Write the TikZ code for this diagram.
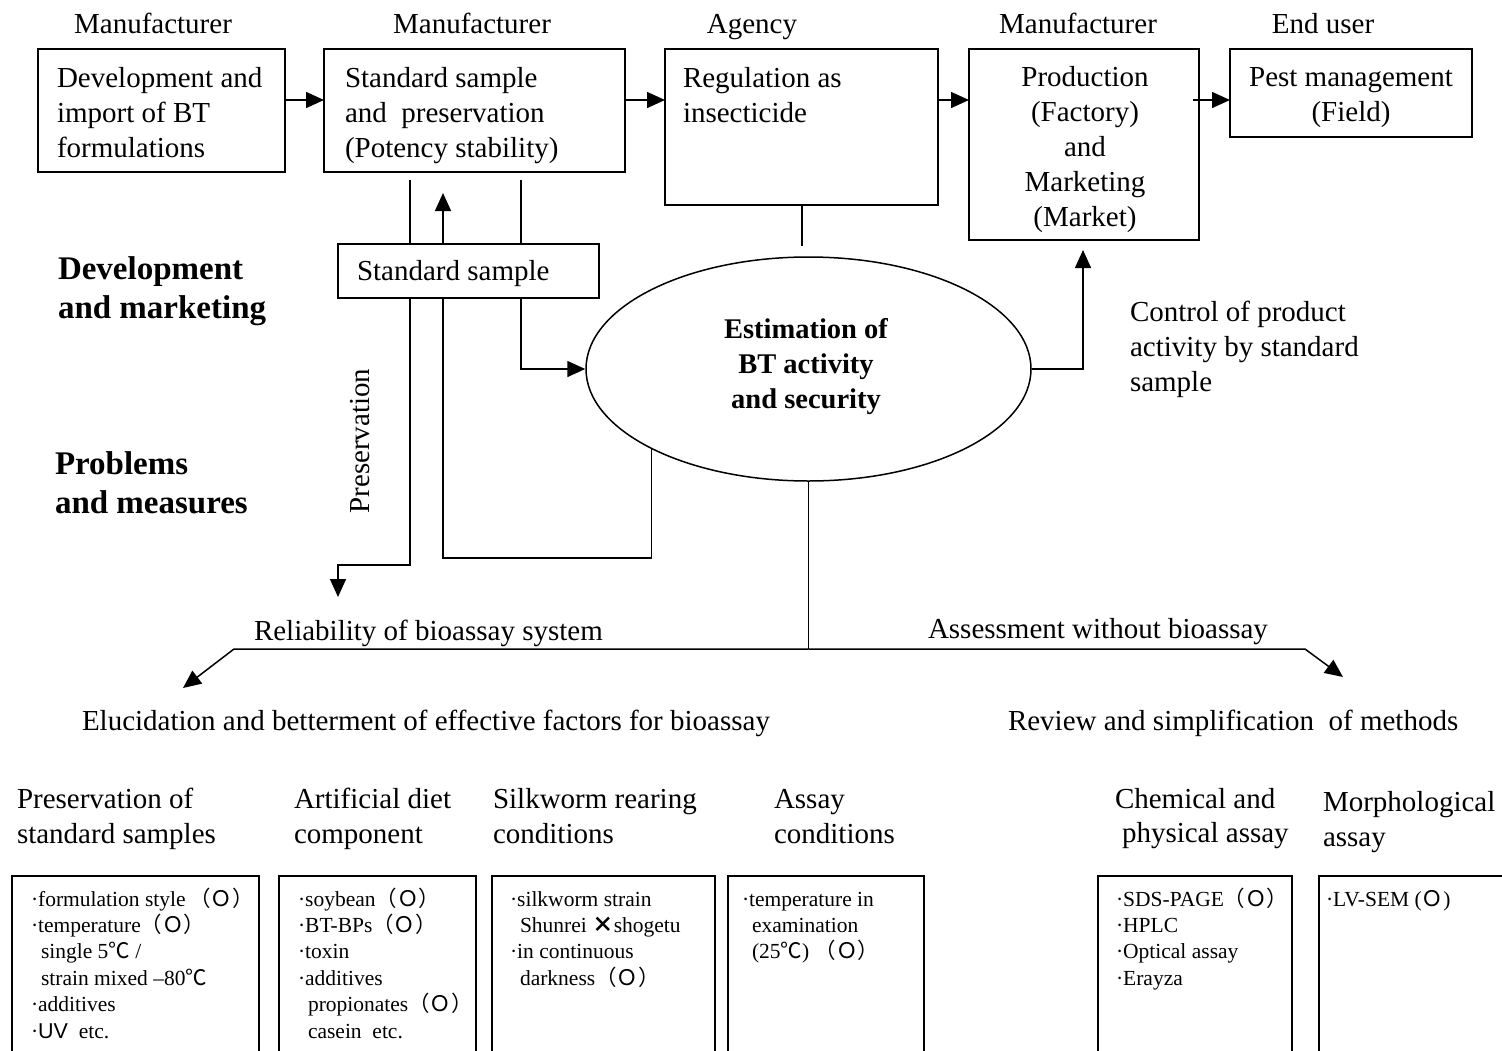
\documentclass[tikz,border=0pt]{standalone}
\usepackage{fontspec}
\setmainfont{Liberation Serif}
\newfontfamily\cjkf{Noto Sans CJK JP}
\newfontfamily\sansf{Liberation Sans}
\usetikzlibrary{arrows.meta,shapes.geometric}
\newcommand\maru{{\cjkf （Ｏ）}}
\newcommand\degc{{\cjkf ℃}}
\newcommand\mylinesl[1]{\begin{tabular}[t]{@{}l@{}}#1\end{tabular}}
\newcommand\mylinesc[1]{\begin{tabular}[t]{@{}c@{}}#1\end{tabular}}
\newcommand\ind{\hspace*{10pt}}
\begin{document}
\begin{tikzpicture}[x=1pt,y=-1pt,line width=1.5pt,
  box/.style={draw,rectangle,inner sep=0pt,outer sep=0pt,anchor=north west},
  lbl/.style={font=\fontsize{29}{35}\selectfont,inner sep=0pt,outer sep=0pt},
  bld/.style={font=\fontsize{33}{39}\selectfont\bfseries,inner sep=0pt,outer sep=0pt},
  ebld/.style={font=\fontsize{28.5}{35}\selectfont\bfseries,inner sep=0pt,outer sep=0pt},
  sml/.style={font=\fontsize{21.5}{26.4}\selectfont,inner sep=0pt,outer sep=0pt},
  arr/.style={-{Triangle[length=18pt,width=16pt]}}]
\useasboundingbox (0,0) rectangle (1502,1050);
% top role labels
\node[lbl,anchor=base] (m1) at (153,33) {Manufacturer};
\node[lbl,anchor=base] (m2) at (472,33) {Manufacturer};
\node[lbl,anchor=base] (ag1) at (752,33) {Agency};
\node[lbl,anchor=base] (m3) at (1078,33) {Manufacturer};
\node[lbl,anchor=base] (eu) at (1323,33) {End user};
% top boxes
\node[box,minimum width=247,minimum height=123] (b1) at (38,49) {};
\node[box,minimum width=301,minimum height=123] (b2) at (324,49) {};
\node[box,minimum width=273,minimum height=156] (b3) at (665,49) {};
\node[box,minimum width=230,minimum height=191] (b4) at (969,49) {};
\node[box,minimum width=242,minimum height=88] (b5) at (1230,49) {};
\node[lbl,anchor=base west] (t1) at (57,87) {\mylinesl{Development and\\import of BT\\formulations}};
\node[lbl,anchor=base west] (t2) at (345,87) {\mylinesl{Standard sample\\and\ \ preservation\\(Potency stability)}};
\node[lbl,anchor=base west] (t3) at (683,87) {\mylinesl{Regulation as\\insecticide}};
\node[lbl,anchor=base] (t4) at (1085,86) {\mylinesc{Production\\(Factory)\\and\\Marketing\\(Market)}};
\node[lbl,anchor=base] (t5) at (1351,86) {\mylinesc{Pest management\\(Field)}};
\coordinate (r100) at (0,100);
\draw[arr] (b1.east |- r100) -- (b2.west |- r100);
\draw[arr] (b2.east |- r100) -- (b3.west |- r100);
\draw[arr] (b3.east |- r100) -- (b4.west |- r100);
\coordinate (s45) at (1193,100);
\draw[arr] (s45) -- (b5.west |- r100);
% standard sample box
\node[box,minimum width=261,minimum height=54] (ss) at (338,244) {};
\node[lbl,anchor=base west] (sst) at (357,280) {Standard sample};
% ellipse
\node[draw,ellipse,minimum width=445,minimum height=224,inner sep=0pt] (est) at (808.5,369) {};
\node[ebld,anchor=base] (estt) at (806,338) {\mylinesc{Estimation of\\BT activity\\and security}};
% side labels
\node[bld,anchor=base west] (dm) at (58,279) {\mylinesl{Development\\and marketing}};
\node[bld,anchor=base west] (pm) at (55,474) {\mylinesl{Problems\\and measures}};
\node[lbl,rotate=90,anchor=base] (pres) at (369,441) {Preservation};
\node[lbl,anchor=base west] (ctl) at (1130,321) {\mylinesl{Control of product\\activity by standard\\sample}};
% connectors around standard sample
\coordinate (va) at (410,180);
\coordinate (vb) at (443,193);
\coordinate (vc) at (521,180);
\draw (va) -- (va |- ss.north);
\draw[arr] (vb |- ss.north) -- (vb);
\draw (vc) -- (vc |- ss.north);
\coordinate (pa) at (410,565);
\coordinate (pa2) at (338,597);
\draw[arr] (va |- ss.south) -- (pa) -| (pa2);
\coordinate (pb) at (443,558);
\draw (vb |- ss.south) -- (pb) -| (est.207);
\coordinate (pc) at (521,369);
\draw[arr] (vc |- ss.south) -- (pc) -- (est.west);
\coordinate (agl) at (802,246);
\draw (agl |- b3.south) -- (agl);
\coordinate (pr) at (1083,250);
\draw[arr] (est.east) -| (pr);
% branch
\coordinate (hub) at (808.5,649);
\draw (est.south) -- (hub);
\coordinate (hl) at (234,649);
\coordinate (tl) at (183,688);
\draw[arr] (hub) -- (hl) -- (tl);
\coordinate (hr) at (1305,649);
\coordinate (tr) at (1343,677);
\draw[arr] (hub) -- (hr) -- (tr);
\node[lbl,anchor=base west] (rel) at (254,640) {Reliability of bioassay system};
\node[lbl,anchor=base west] (asw) at (928,638) {Assessment without bioassay};
\node[lbl,anchor=base west] (elu) at (82,730) {Elucidation and betterment of effective factors for bioassay};
\node[lbl,anchor=base west] (rev) at (1008,730) {Review and simplification\ \ of methods};
% categories
\node[lbl,anchor=base west] (c1) at (17,808) {\mylinesl{Preservation of\\standard samples}};
\node[lbl,anchor=base west] (c2) at (294,808) {\mylinesl{Artificial diet\\component}};
\node[lbl,anchor=base west] (c3) at (493,808) {\mylinesl{Silkworm rearing\\conditions}};
\node[lbl,anchor=base west] (c4) at (774,808) {\mylinesl{Assay\\conditions}};
\node[lbl,anchor=base west] (c5) at (1115,808) {Chemical and};
\node[lbl,anchor=base west] (c5b) at (1122,842) {physical assay};
\node[lbl,anchor=base west] (c6) at (1323,811) {\mylinesl{Morphological\\assay}};
% bottom boxes
\node[box,minimum width=247,minimum height=220] (ba) at (12,876) {};
\node[box,minimum width=197,minimum height=220] (bb) at (279,876) {};
\node[box,minimum width=223,minimum height=220] (bc) at (492,876) {};
\node[box,minimum width=196,minimum height=220] (bd) at (728,876) {};
\node[box,minimum width=194,minimum height=220] (be) at (1098,876) {};
\node[box,minimum width=250,minimum height=220] (bf) at (1319,876) {};
\node[sml,anchor=base west] (ta) at (31,906) {\mylinesl{·formulation style\,\maru\\·temperature\maru\\\ind single 5\degc\ /\\\ind strain mixed –80\degc\\·additives\\·{\sansf UV}\ \ etc.}};
\node[sml,anchor=base west] (tb) at (298,906) {\mylinesl{·soybean\maru\\·BT-BPs\maru\\·toxin\\·additives\\\ind propionates\maru\\\ind casein\ \ etc.}};
\node[sml,anchor=base west] (tc) at (510,906) {\mylinesl{·silkworm strain\\\ind Shunrei\ {\cjkf\bfseries ×}shogetu\\·in continuous\\\ind darkness\maru}};
\node[sml,anchor=base west] (td) at (742,906) {\mylinesl{·temperature in\\\ind examination\\\ind (25\degc)\ \maru}};
\node[sml,anchor=base west] (te) at (1116,906) {\mylinesl{·SDS-PAGE\maru\\·HPLC\\·Optical assay\\·Erayza}};
\node[sml,anchor=base west] (tf) at (1326,906) {·LV-SEM ({\cjkf Ｏ})};
\end{tikzpicture}
\end{document}
